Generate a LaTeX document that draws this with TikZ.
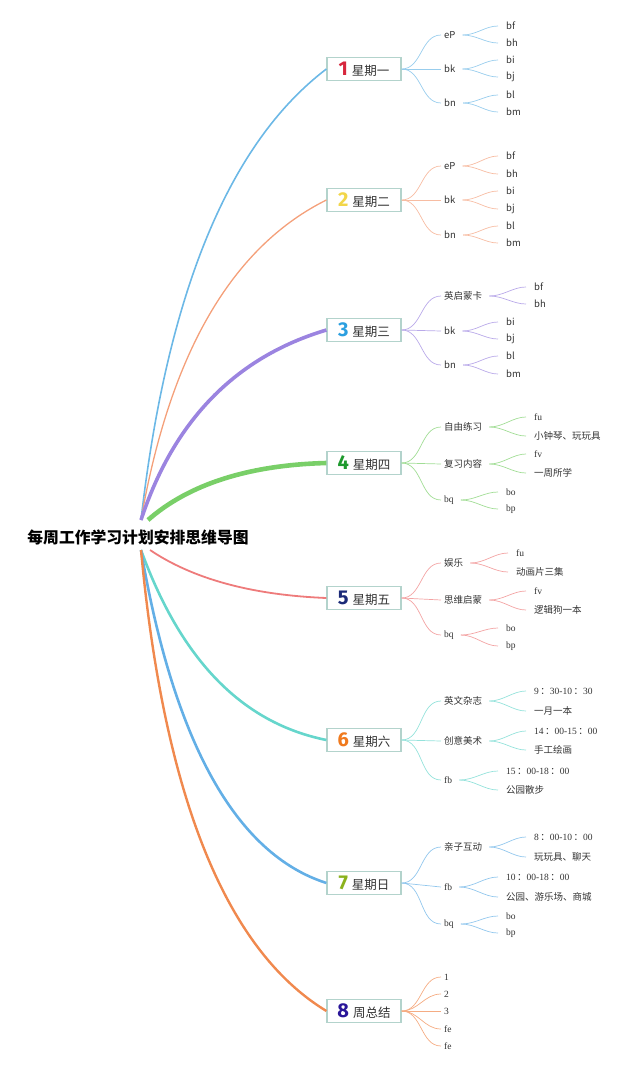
\documentclass[tikz,border=0pt]{standalone}
\usepackage{fontspec}
\setmainfont{Liberation Serif}
\newfontfamily\cjk{Noto Sans CJK SC}
\newfontfamily\numfont{Fira Sans}
\newcommand\fc{\hspace{1.5pt}{\cjk ：}}

\definecolor{txt}{HTML}{333333}
\definecolor{boxline}{HTML}{B3D3CC}
\definecolor{n1}{HTML}{D7263D}\definecolor{c1}{HTML}{6CB8E6}
\definecolor{n2}{HTML}{F2D649}\definecolor{c2}{HTML}{F4A07A}
\definecolor{n3}{HTML}{2B9FE0}\definecolor{c3}{HTML}{9B84E0}
\definecolor{n4}{HTML}{1E9A2E}\definecolor{c4}{HTML}{79CF68}
\definecolor{n5}{HTML}{1B2A78}\definecolor{c5}{HTML}{EE7B7B}
\definecolor{n6}{HTML}{F07A1E}\definecolor{c6}{HTML}{66D6CC}
\definecolor{n7}{HTML}{8BB21C}\definecolor{c7}{HTML}{63AFE6}
\definecolor{n8}{HTML}{2A1699}\definecolor{c8}{HTML}{F0894E}

\newcommand\daynum[2]{\textcolor{#1}{\numfont\bfseries\fontsize{20}{20}\selectfont #2}\hspace{4pt}}

\tikzset{
  day/.style={draw=boxline, fill=white, line width=1.2pt, minimum width=74pt, minimum height=23pt, inner sep=0pt, text=txt, font=\cjk\fontsize{12.5}{12.5}\selectfont},
  sub/.style={anchor=west, inner xsep=3pt, inner ysep=1pt, text=txt, font=\cjk\fontsize{9.5}{10}\selectfont},
  subr/.style={sub, font=\fontsize{9.5}{10}\selectfont},
  leaf/.style={line width=0.7pt, shorten <=4pt, shorten >=5pt},
  twig/.style={line width=0.7pt},
}

\begin{document}
\begin{tikzpicture}[x=1pt,y=-1pt]
\useasboundingbox (0,0) rectangle (640,1071);

% root
\node (root) at (138,537) [text=black, font=\cjk\bfseries\fontsize{15.8}{16}\selectfont]{每周工作学习计划安排思维导图};
\coordinate (rt) at (141,520);
\coordinate (rt4) at (148,520);
\coordinate (rb) at (141,550);
\coordinate (rb5) at (150,550);

% day boxes
\node (d1) at (364,69) [day]{\daynum{n1}{1}星期一};
\node (d2) at (364,200) [day]{\daynum{n2}{2}星期二};
\node (d3) at (364,330) [day]{\daynum{n3}{3}星期三};
\node (d4) at (364,463) [day]{\daynum{n4}{4}星期四};
\node (d5) at (364,598) [day]{\daynum{n5}{5}星期五};
\node (d6) at (364,740) [day]{\daynum{n6}{6}星期六};
\node (d7) at (364,883) [day]{\daynum{n7}{7}星期日};
\node (d8) at (364,1011) [day]{\daynum{n8}{8}周总结};

% main branches
\draw [c1, line width=1.6pt] (rt) .. controls (167,293) and (229,143) .. (d1.west);
\draw [c2, line width=1.3pt] (rt) .. controls (170,353) and (232,247) .. (d2.west);
\draw [c3, line width=3.6pt] (rt) .. controls (174,420) and (236,357) .. (d3.west);
\draw [c4, line width=4.6pt] (rt4) .. controls (189,484) and (249,465) .. (d4.west);
\draw [c5, line width=1.8pt] (rb5) .. controls (193,579) and (252,595) .. (d5.west);
\draw [c6, line width=2.6pt] (rb) .. controls (181,660) and (242,723) .. (d6.west);
\draw [c7, line width=2.6pt] (rb) .. controls (174,743) and (236,854) .. (d7.west);
\draw [c8, line width=2.4pt] (rb) .. controls (164,797) and (226,950) .. (d8.west);

% 1
\node (d1a) at (441,35) [sub]{eP};
\node (d1b) at (441,69) [sub]{bk};
\node (d1c) at (441,103) [sub]{bn};
\node (d1a1) at (503,26) [sub]{bf};
\node (d1a2) at (503,43) [sub]{bh};
\node (d1b1) at (503,60) [sub]{bi};
\node (d1b2) at (503,77) [sub]{bj};
\node (d1c1) at (503,95) [sub]{bl};
\node (d1c2) at (503,112) [sub]{bm};
\draw [c1!70!white, twig] (d1.east) to[out=0,in=180] (d1a.west);
\draw [c1!70!white, twig] (d1.east) -- (d1b.west);
\draw [c1!70!white, twig] (d1.east) to[out=0,in=180] (d1c.west);
\draw [c1!70!white, leaf] (d1a.east) to[out=0,in=180] (d1a1.west);
\draw [c1!70!white, leaf] (d1a.east) to[out=0,in=180] (d1a2.west);
\draw [c1!70!white, leaf] (d1b.east) to[out=0,in=180] (d1b1.west);
\draw [c1!70!white, leaf] (d1b.east) to[out=0,in=180] (d1b2.west);
\draw [c1!70!white, leaf] (d1c.east) to[out=0,in=180] (d1c1.west);
\draw [c1!70!white, leaf] (d1c.east) to[out=0,in=180] (d1c2.west);

% 2
\node (d2a) at (441,166) [sub]{eP};
\node (d2b) at (441,200) [sub]{bk};
\node (d2c) at (441,235) [sub]{bn};
\node (d2a1) at (503,156) [sub]{bf};
\node (d2a2) at (503,174) [sub]{bh};
\node (d2b1) at (503,191) [sub]{bi};
\node (d2b2) at (503,209) [sub]{bj};
\node (d2c1) at (503,226) [sub]{bl};
\node (d2c2) at (503,243) [sub]{bm};
\draw [c2!70!white, twig] (d2.east) to[out=0,in=180] (d2a.west);
\draw [c2!70!white, twig] (d2.east) -- (d2b.west);
\draw [c2!70!white, twig] (d2.east) to[out=0,in=180] (d2c.west);
\draw [c2!70!white, leaf] (d2a.east) to[out=0,in=180] (d2a1.west);
\draw [c2!70!white, leaf] (d2a.east) to[out=0,in=180] (d2a2.west);
\draw [c2!70!white, leaf] (d2b.east) to[out=0,in=180] (d2b1.west);
\draw [c2!70!white, leaf] (d2b.east) to[out=0,in=180] (d2b2.west);
\draw [c2!70!white, leaf] (d2c.east) to[out=0,in=180] (d2c1.west);
\draw [c2!70!white, leaf] (d2c.east) to[out=0,in=180] (d2c2.west);

% 3
\node (d3a) at (441,296) [sub]{英启蒙卡};
\node (d3b) at (441,331) [sub]{bk};
\node (d3c) at (441,365) [sub]{bn};
\node (d3a1) at (531,287) [sub]{bf};
\node (d3a2) at (531,304) [sub]{bh};
\node (d3b1) at (503,322) [sub]{bi};
\node (d3b2) at (503,339) [sub]{bj};
\node (d3c1) at (503,356) [sub]{bl};
\node (d3c2) at (503,374) [sub]{bm};
\draw [c3!70!white, twig] (d3.east) to[out=0,in=180] (d3a.west);
\draw [c3!70!white, twig] (d3.east) -- (d3b.west);
\draw [c3!70!white, twig] (d3.east) to[out=0,in=180] (d3c.west);
\draw [c3!70!white, leaf] (d3a.east) to[out=0,in=180] (d3a1.west);
\draw [c3!70!white, leaf] (d3a.east) to[out=0,in=180] (d3a2.west);
\draw [c3!70!white, leaf] (d3b.east) to[out=0,in=180] (d3b1.west);
\draw [c3!70!white, leaf] (d3b.east) to[out=0,in=180] (d3b2.west);
\draw [c3!70!white, leaf] (d3c.east) to[out=0,in=180] (d3c1.west);
\draw [c3!70!white, leaf] (d3c.east) to[out=0,in=180] (d3c2.west);

% 4
\node (d4a) at (441,427) [sub]{自由练习};
\node (d4b) at (441,464) [sub]{复习内容};
\node (d4c) at (441,500) [subr]{bq};
\node (d4a1) at (531,417) [subr]{fu};
\node (d4a2) at (531,436) [sub]{小钟琴、玩玩具};
\node (d4b1) at (531,454) [subr]{fv};
\node (d4b2) at (531,473) [sub]{一周所学};
\node (d4c1) at (503,492) [subr]{bo};
\node (d4c2) at (503,509) [subr]{bp};
\draw [c4!70!white, twig] (d4.east) to[out=0,in=180] (d4a.west);
\draw [c4!70!white, twig] (d4.east) -- (d4b.west);
\draw [c4!70!white, twig] (d4.east) to[out=0,in=180] (d4c.west);
\draw [c4!70!white, leaf] (d4a.east) to[out=0,in=180] (d4a1.west);
\draw [c4!70!white, leaf] (d4a.east) to[out=0,in=180] (d4a2.west);
\draw [c4!70!white, leaf] (d4b.east) to[out=0,in=180] (d4b1.west);
\draw [c4!70!white, leaf] (d4b.east) to[out=0,in=180] (d4b2.west);
\draw [c4!70!white, leaf] (d4c.east) to[out=0,in=180] (d4c1.west);
\draw [c4!70!white, leaf] (d4c.east) to[out=0,in=180] (d4c2.west);

% 5
\node (d5a) at (441,563) [sub]{娱乐};
\node (d5b) at (441,600) [sub]{思维启蒙};
\node (d5c) at (441,635) [subr]{bq};
\node (d5a1) at (513,553) [subr]{fu};
\node (d5a2) at (513,572) [sub]{动画片三集};
\node (d5b1) at (531,591) [subr]{fv};
\node (d5b2) at (531,610) [sub]{逻辑狗一本};
\node (d5c1) at (503,628) [subr]{bo};
\node (d5c2) at (503,646) [subr]{bp};
\draw [c5!70!white, twig] (d5.east) to[out=0,in=180] (d5a.west);
\draw [c5!70!white, twig] (d5.east) -- (d5b.west);
\draw [c5!70!white, twig] (d5.east) to[out=0,in=180] (d5c.west);
\draw [c5!70!white, leaf] (d5a.east) to[out=0,in=180] (d5a1.west);
\draw [c5!70!white, leaf] (d5a.east) to[out=0,in=180] (d5a2.west);
\draw [c5!70!white, leaf] (d5b.east) to[out=0,in=180] (d5b1.west);
\draw [c5!70!white, leaf] (d5b.east) to[out=0,in=180] (d5b2.west);
\draw [c5!70!white, leaf] (d5c.east) to[out=0,in=180] (d5c1.west);
\draw [c5!70!white, leaf] (d5c.east) to[out=0,in=180] (d5c2.west);

% 6
\node (d6a) at (441,701) [sub]{英文杂志};
\node (d6b) at (441,741) [sub]{创意美术};
\node (d6c) at (441,780) [subr]{fb};
\node (d6a1) at (531,691) [subr]{9\fc30-10\fc30};
\node (d6a2) at (531,711) [sub]{一月一本};
\node (d6b1) at (531,731) [subr]{14\fc00-15\fc00};
\node (d6b2) at (531,750) [sub]{手工绘画};
\node (d6c1) at (503,771) [subr]{15\fc00-18\fc00};
\node (d6c2) at (503,790) [sub]{公园散步};
\draw [c6!70!white, twig] (d6.east) to[out=0,in=180] (d6a.west);
\draw [c6!70!white, twig] (d6.east) -- (d6b.west);
\draw [c6!70!white, twig] (d6.east) to[out=0,in=180] (d6c.west);
\draw [c6!70!white, leaf] (d6a.east) to[out=0,in=180] (d6a1.west);
\draw [c6!70!white, leaf] (d6a.east) to[out=0,in=180] (d6a2.west);
\draw [c6!70!white, leaf] (d6b.east) to[out=0,in=180] (d6b1.west);
\draw [c6!70!white, leaf] (d6b.east) to[out=0,in=180] (d6b2.west);
\draw [c6!70!white, leaf] (d6c.east) to[out=0,in=180] (d6c1.west);
\draw [c6!70!white, leaf] (d6c.east) to[out=0,in=180] (d6c2.west);

% 7
\node (d7a) at (441,847) [sub]{亲子互动};
\node (d7b) at (441,887) [subr]{fb};
\node (d7c) at (441,924) [subr]{bq};
\node (d7a1) at (531,837) [subr]{8\fc00-10\fc00};
\node (d7a2) at (531,857) [sub]{玩玩具、聊天};
\node (d7b1) at (503,877) [subr]{10\fc00-18\fc00};
\node (d7b2) at (503,897) [sub]{公园、游乐场、商城};
\node (d7c1) at (503,916) [subr]{bo};
\node (d7c2) at (503,933) [subr]{bp};
\draw [c7!70!white, twig] (d7.east) to[out=0,in=180] (d7a.west);
\draw [c7!70!white, twig] (d7.east) -- (d7b.west);
\draw [c7!70!white, twig] (d7.east) to[out=0,in=180] (d7c.west);
\draw [c7!70!white, leaf] (d7a.east) to[out=0,in=180] (d7a1.west);
\draw [c7!70!white, leaf] (d7a.east) to[out=0,in=180] (d7a2.west);
\draw [c7!70!white, leaf] (d7b.east) to[out=0,in=180] (d7b1.west);
\draw [c7!70!white, leaf] (d7b.east) to[out=0,in=180] (d7b2.west);
\draw [c7!70!white, leaf] (d7c.east) to[out=0,in=180] (d7c1.west);
\draw [c7!70!white, leaf] (d7c.east) to[out=0,in=180] (d7c2.west);

% 8
\node (d8a) at (441,977) [subr]{1};
\node (d8b) at (441,994) [subr]{2};
\node (d8c) at (441,1011) [subr]{3};
\node (d8d) at (441,1029) [subr]{fe};
\node (d8e) at (441,1046) [subr]{fe};
\draw [c8!70!white, twig] (d8.east) to[out=0,in=180] (d8a.west);
\draw [c8!70!white, twig] (d8.east) to[out=0,in=180] (d8b.west);
\draw [c8!70!white, twig] (d8.east) -- (d8c.west);
\draw [c8!70!white, twig] (d8.east) to[out=0,in=180] (d8d.west);
\draw [c8!70!white, twig] (d8.east) to[out=0,in=180] (d8e.west);

\end{tikzpicture}
\end{document}
